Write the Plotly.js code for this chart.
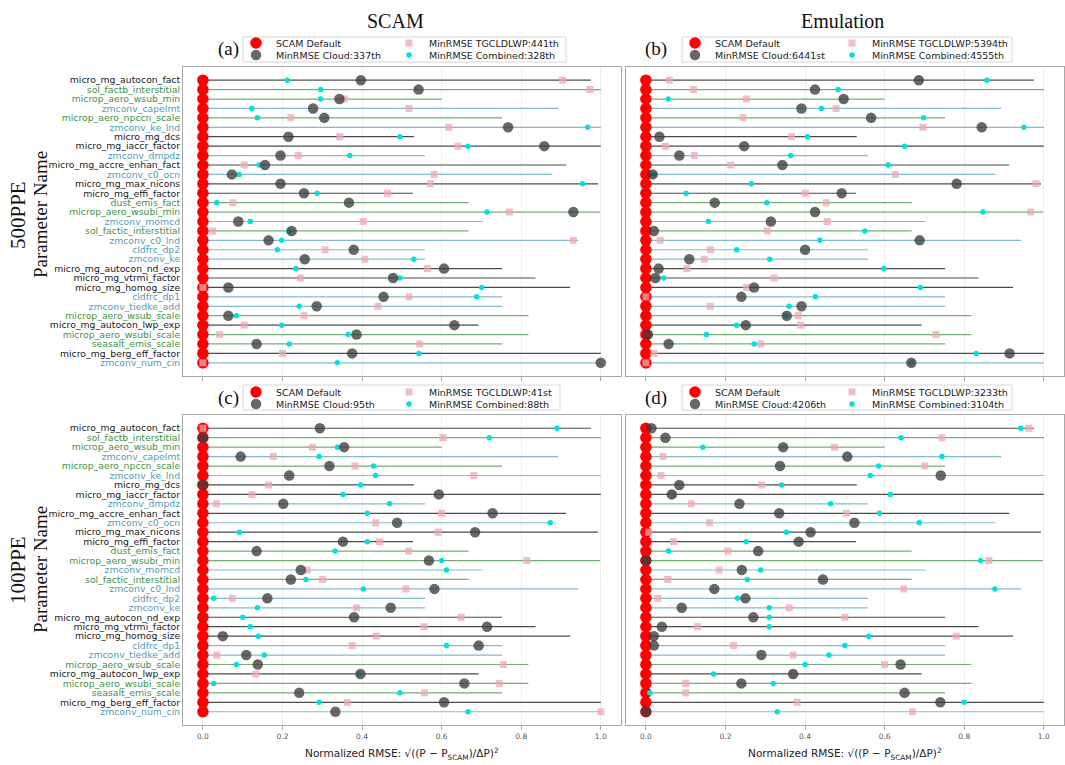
<!DOCTYPE html>
<html><head><meta charset="utf-8">
<script src="https://cdn.plot.ly/plotly-3.0.1.min.js"></script>
<style>html,body{margin:0;padding:0;background:#fff;} #chart{width:1065px;height:765px;}</style>
</head><body><div id="chart"></div>
<script>
const params = ["micro_mg_autocon_fact","sol_factb_interstitial","microp_aero_wsub_min","zmconv_capelmt","microp_aero_npccn_scale","zmconv_ke_lnd","micro_mg_dcs","micro_mg_iaccr_factor","zmconv_dmpdz","micro_mg_accre_enhan_fact","zmconv_c0_ocn","micro_mg_max_nicons","micro_mg_effi_factor","dust_emis_fact","microp_aero_wsubi_min","zmconv_momcd","sol_factic_interstitial","zmconv_c0_lnd","cldfrc_dp2","zmconv_ke","micro_mg_autocon_nd_exp","micro_mg_vtrmi_factor","micro_mg_homog_size","cldfrc_dp1","zmconv_tiedke_add","microp_aero_wsub_scale","micro_mg_autocon_lwp_exp","microp_aero_wsubi_scale","seasalt_emis_scale","micro_mg_berg_eff_factor","zmconv_num_cin"];
const groups = ["mg","aero","aero","zm","aero","zm","mg","mg","zm","mg","zm","mg","mg","aero","aero","zm","aero","zm","zm","zm","mg","mg","mg","zm","zm","aero","mg","aero","aero","mg","zm"];
const lineMax = [0.975,1.0,0.60,0.893,0.752,1.0,0.53,1.0,0.558,0.913,0.878,0.993,0.528,0.668,0.998,0.703,0.668,0.943,0.558,0.558,0.752,0.836,0.923,0.752,0.752,0.818,0.693,0.818,0.752,1.0,1.0];
const scamDefault = [0,0,0,0,0,0,0,0,0,0,0,0,0,0,0,0,0,0,0,0,0,0,0,0,0,0,0,0,0,0,0];

// (a) SCAM 500PPE
const cloudA = [0.397,0.542,0.343,0.277,0.305,0.767,0.215,0.858,0.195,0.156,0.073,0.195,0.254,0.367,0.931,0.089,0.223,0.165,0.379,0.256,0.606,0.478,0.064,0.454,0.286,0.064,0.632,0.386,0.135,0.375,1.0];
const tgA = [0.904,0.973,0.355,0.518,0.221,0.618,0.344,0.641,0.240,0.104,0.581,0.572,0.464,0.075,0.770,0.403,0.024,0.931,0.307,0.407,0.564,0.245,0.0,0.518,0.44,0.254,0.104,0.042,0.545,0.2,0.0];
const combA = [0.212,0.296,0.296,0.123,0.137,0.967,0.495,0.666,0.369,0.141,0.091,0.954,0.287,0.035,0.714,0.119,0.216,0.198,0.187,0.53,0.234,0.495,0.701,0.688,0.242,0.084,0.198,0.365,0.217,0.543,0.338];
// (b) Emulation 500PPE
const cloudB = [0.686,0.425,0.497,0.391,0.566,0.844,0.034,0.247,0.084,0.343,0.017,0.781,0.492,0.173,0.425,0.314,0.02,0.688,0.4,0.109,0.032,0.024,0.272,0.24,0.391,0.354,0.251,0.005,0.057,0.914,0.667];
const tgB = [0.059,0.12,0.253,0.478,0.244,0.696,0.366,0.049,0.122,0.213,0.627,0.98,0.401,0.453,0.967,0.456,0.305,0.036,0.162,0.147,0.103,0.322,0.253,0.0,0.162,0.383,0.389,0.729,0.289,0.02,0.0];
const combB = [0.857,0.483,0.056,0.441,0.698,0.95,0.406,0.65,0.364,0.609,0.021,0.265,0.101,0.304,0.847,0.157,0.55,0.437,0.228,0.311,0.598,0.045,0.69,0.426,0.36,0.351,0.228,0.152,0.272,0.83,0.667];
// (c) SCAM 100PPE
const cloudC = [0.294,0.0,0.355,0.095,0.318,0.217,0.0,0.593,0.202,0.728,0.488,0.684,0.352,0.135,0.568,0.246,0.221,0.582,0.162,0.472,0.38,0.714,0.05,0.693,0.109,0.138,0.396,0.657,0.242,0.606,0.333];
const tgC = [0.0,0.603,0.275,0.177,0.382,0.681,0.165,0.123,0.034,0.6,0.434,0.591,0.444,0.517,0.814,0.262,0.301,0.51,0.074,0.386,0.649,0.556,0.436,0.375,0.035,0.755,0.133,0.745,0.557,0.363,1.0];
const combC = [0.89,0.72,0.338,0.292,0.429,0.434,0.396,0.352,0.469,0.413,0.873,0.092,0.413,0.332,0.6,0.612,0.259,0.403,0.027,0.137,0.1,0.119,0.139,0.612,0.154,0.084,0.393,0.027,0.495,0.292,0.666];
// (d) Emulation 100PPE
const cloudD = [0.014,0.049,0.345,0.506,0.337,0.741,0.084,0.065,0.235,0.335,0.524,0.414,0.384,0.282,0.0,0.241,0.445,0.172,0.25,0.09,0.27,0.04,0.02,0.02,0.29,0.64,0.37,0.24,0.65,0.74,0.0];
const tgD = [0.962,0.744,0.474,0.043,0.701,0.038,0.291,0.068,0.114,0.504,0.16,0.007,0.07,0.206,0.862,0.184,0.055,0.648,0.03,0.36,0.5,0.13,0.78,0.22,0.37,0.6,0.37,0.1,0.1,0.38,0.67];
const combD = [0.942,0.641,0.143,0.744,0.585,0.564,0.341,0.614,0.464,0.587,0.687,0.353,0.252,0.057,0.841,0.288,0.255,0.877,0.23,0.31,0.31,0.31,0.56,0.5,0.46,0.4,0.17,0.32,0.01,0.8,0.33];

const rankLabels = {
  a: {cloud:"337th", tg:"441th", comb:"328th"},
  b: {cloud:"6441st", tg:"5394th", comb:"4555th"},
  c: {cloud:"95th", tg:"41st", comb:"88th"},
  d: {cloud:"4206th", tg:"3233th", comb:"3104th"}
};

const labelColors = {mg:"#1a1a1a", aero:"#3f923f", zm:"#4f9db3"};
const lineColors = {mg:"rgba(45,45,45,0.85)", aero:"rgba(80,155,80,0.8)", zm:"rgba(100,170,190,0.8)"};

const W = 1065, H = 765;
const px = v => v / W, py = v => 1 - v / H;

const panels = [
  {key:"a", xa:"x",  ya:"y",  cloud:cloudA, tg:tgA, comb:combA, col1:236, col2:389, row1:43, row2:55, frame:[243,566,37,62]},
  {key:"b", xa:"x2", ya:"y2", cloud:cloudB, tg:tgB, comb:combB, col1:675, col2:832, row1:43, row2:55, frame:[682,1012,37,62]},
  {key:"c", xa:"x3", ya:"y3", cloud:cloudC, tg:tgC, comb:combC, col1:236, col2:389, row1:392, row2:404, frame:[243,560,385,410]},
  {key:"d", xa:"x4", ya:"y4", cloud:cloudD, tg:tgD, comb:combD, col1:675, col2:832, row1:392, row2:404, frame:[682,1012,385,410]}
];

const legendFont = {family:"DejaVu Sans", size:9.5, color:"#222"};
const legends = {};
let legCount = 0;
function newLegend(xLeft, yMid) {
  legCount += 1;
  const id = legCount === 1 ? "legend" : "legend" + legCount;
  legends[id] = {x:px(xLeft), y:py(yMid), xanchor:"left", yanchor:"middle", orientation:"v",
    bgcolor:"rgba(0,0,0,0)", borderwidth:0, font:legendFont, itemwidth:30};
  return id;
}

const data = [];
const shapes = [];
panels.forEach(p => {
  ["mg","aero","zm"].forEach(g => {
    const xs = [], ys = [];
    params.forEach((name, i) => {
      if (groups[i] === g) { xs.push(0, lineMax[i], null); ys.push(name, name, null); }
    });
    data.push({type:"scatter", mode:"lines", x:xs, y:ys, xaxis:p.xa, yaxis:p.ya,
      line:{color:lineColors[g], width:1.2}, showlegend:false, hoverinfo:"skip"});
  });
  const r = rankLabels[p.key];
  const lgDef = newLegend(p.col1, p.row1);
  const lgCloud = newLegend(p.col1, p.row2);
  const lgTg = newLegend(p.col2, p.row1);
  const lgComb = newLegend(p.col2, p.row2);
  shapes.push({type:"rect", xref:"paper", yref:"paper", layer:"below",
    x0:px(p.frame[0]), x1:px(p.frame[1]), y0:py(p.frame[3]), y1:py(p.frame[2]),
    fillcolor:"#ffffff", line:{color:"#d6d6d6", width:1}});
  data.push({type:"scatter", mode:"markers", x:scamDefault, y:params, xaxis:p.xa, yaxis:p.ya,
    name:"SCAM Default", legend:lgDef,
    marker:{color:"#ff0000", size:11.5, symbol:"circle"}});
  data.push({type:"scatter", mode:"markers", x:p.tg, y:params, xaxis:p.xa, yaxis:p.ya,
    name:"MinRMSE TGCLDLWP:" + r.tg, legend:lgTg,
    marker:{color:"rgba(240,165,178,0.75)", size:7, symbol:"square"}});
  data.push({type:"scatter", mode:"markers", x:p.comb, y:params, xaxis:p.xa, yaxis:p.ya,
    name:"MinRMSE Combined:" + r.comb, legend:lgComb,
    marker:{color:"rgb(0,225,225)", size:5.5, symbol:"circle"}});
  data.push({type:"scatter", mode:"markers", x:p.cloud, y:params, xaxis:p.xa, yaxis:p.ya,
    name:"MinRMSE Cloud:" + r.cloud, legend:lgCloud,
    marker:{color:"rgba(60,60,60,0.78)", size:10.5, symbol:"circle"}});
});

const xDomL = [px(183), px(620.7)], xDomR = [px(626), px(1063.7)];
const yDomT = [py(376), py(67)], yDomB = [py(725), py(415)];

const tickText = params.map((n, i) => `<span style="color:${labelColors[groups[i]]}">${n}</span>`);

function xax(dom, anchor, labels) {
  return {domain:dom, anchor:anchor, range:[-0.05,1.05], dtick:0.2, tick0:0, automargin:false,
    showticklabels:labels, tickformat:".1f", ticks:"outside", ticklen:3.5, tickcolor:"#aaa",
    tickfont:{family:"DejaVu Sans", size:7.5, color:"#555"},
    showgrid:true, gridcolor:"#efefef", gridwidth:1, zeroline:false,
    showline:true, mirror:true, linecolor:"#a8a8a8", linewidth:1};
}
function yax(dom, anchor, labels) {
  return {domain:dom, anchor:anchor, type:"category", categoryarray:params, automargin:false,
    range:[31.4,-1.4], tickmode:"array", tickvals:params, ticktext:tickText,
    showticklabels:labels, ticks:"", tickfont:{family:"DejaVu Sans", size:9.3},
    showgrid:false, zeroline:false, showline:true, mirror:true, linecolor:"#a8a8a8", linewidth:1};
}
const xTitle = {text:"Normalized RMSE: √((P − P<sub>SCAM</sub>)/ΔP)<sup>2</sup>",
  font:{family:"DejaVu Sans", size:10.5, color:"#222"}, standoff:10};

const serif = "Liberation Serif, Times New Roman, serif";
const ann = (text, x, y, size, angle) => ({text:text, x:px(x), y:py(y), xref:"paper", yref:"paper",
  xanchor:"center", yanchor:"middle", showarrow:false, textangle:angle || 0,
  font:{family:serif, size:size, color:"#111"}});

const layout = Object.assign({
  width:W, height:H, margin:{l:0,r:0,t:0,b:0, autoexpand:false}, paper_bgcolor:"#fff", plot_bgcolor:"#fff",
  showlegend:true,
  xaxis: xax(xDomL, "y", false),
  yaxis: yax(yDomT, "x", true),
  xaxis2: xax(xDomR, "y2", false),
  yaxis2: yax(yDomT, "x2", false),
  xaxis3: Object.assign(xax(xDomL, "y3", true), {title:xTitle}),
  yaxis3: yax(yDomB, "x3", true),
  xaxis4: Object.assign(xax(xDomR, "y4", true), {title:xTitle}),
  yaxis4: yax(yDomB, "x4", false),
  shapes: shapes,
  annotations: [
    ann("SCAM", 395, 21, 20), ann("Emulation", 843, 21, 20),
    ann("(a)", 228, 49, 19), ann("(b)", 656, 49, 19),
    ann("(c)", 228, 398, 19), ann("(d)", 656, 398, 19),
    ann("500PPE", 18, 215, 21, -90), ann("Parameter Name", 40, 215, 19, -90),
    ann("100PPE", 18, 570, 21, -90), ann("Parameter Name", 40, 570, 19, -90)
  ]
}, legends);

Plotly.newPlot("chart", data, layout, {displayModeBar:false, staticPlot:true});
</script>
</body></html>
